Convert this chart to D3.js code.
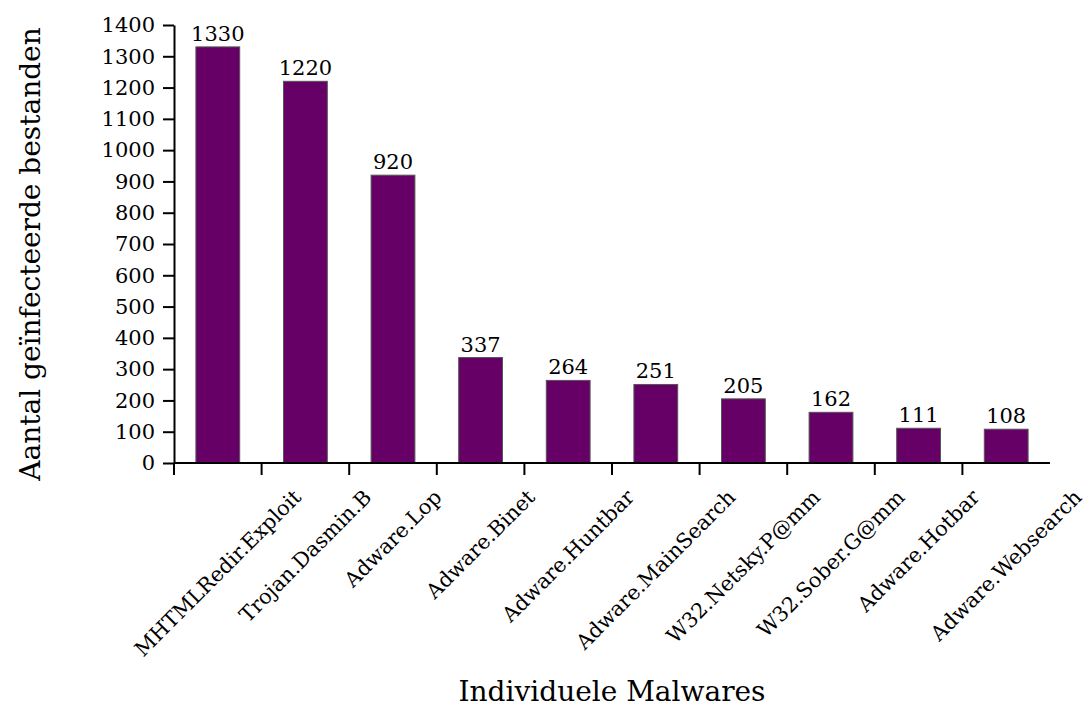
<!DOCTYPE html>
<html>
<head>
<meta charset="utf-8">
<script src="https://cdn.jsdelivr.net/npm/d3@7"></script>
<style>
  html, body { margin: 0; padding: 0; background: #fff; }
  svg text { font-family: "DejaVu Serif", serif; fill: #000; }
</style>
</head>
<body>
<svg id="chart" width="1085" height="707"></svg>
<script>
// Malware names and number of infected files per malware
const categories = [
  "MHTMLRedir.Exploit", "Trojan.Dasmin.B", "Adware.Lop", "Adware.Binet",
  "Adware.Huntbar", "Adware.MainSearch", "W32.Netsky.P@mm", "W32.Sober.G@mm",
  "Adware.Hotbar", "Adware.Websearch"
];
const infectedFiles = [1330, 1220, 920, 337, 264, 251, 205, 162, 111, 108];
const yTicks = [0, 100, 200, 300, 400, 500, 600, 700, 800, 900, 1000, 1100, 1200, 1300, 1400];

const svg = d3.select("#chart");
const plot = { left: 174, right: 1050, top: 25, bottom: 463 };

const x = d3.scaleBand()
  .domain(categories)
  .range([plot.left, plot.right])
  .paddingInner(0.5)
  .paddingOuter(0.25);

const y = d3.scaleLinear()
  .domain([0, 1400])
  .range([plot.bottom, plot.top]);

// Bars
svg.append("g").selectAll("rect")
  .data(categories)
  .join("rect")
  .attr("x", d => x(d))
  .attr("y", (d, i) => y(infectedFiles[i]))
  .attr("width", x.bandwidth())
  .attr("height", (d, i) => y(0) - y(infectedFiles[i]))
  .attr("fill", "#660066")
  .attr("stroke", "#555")
  .attr("stroke-width", 1);

// Value labels above the bars
svg.append("g").selectAll("text")
  .data(categories)
  .join("text")
  .attr("x", d => x(d) + x.bandwidth() / 2)
  .attr("y", (d, i) => y(infectedFiles[i]) - 6)
  .attr("text-anchor", "middle")
  .attr("font-size", 21)
  .text((d, i) => infectedFiles[i]);

// Y axis
const yAxis = svg.append("g")
  .attr("transform", `translate(${plot.left},0)`)
  .call(d3.axisLeft(y)
    .tickValues(yTicks)
    .tickFormat(d3.format("d"))
    .tickSize(11).tickPadding(8).tickSizeOuter(0));
yAxis.select(".domain").attr("stroke", "#000").attr("stroke-width", 2);
yAxis.selectAll(".tick line").attr("stroke", "#000").attr("stroke-width", 2);
yAxis.selectAll(".tick text")
  .attr("font-family", "DejaVu Serif")
  .attr("font-size", 21)
  .attr("fill", "#000");

// X axis: baseline with ticks at the left edge of every category slot
const step = x.step();
const xAxis = svg.append("g");
xAxis.append("line")
  .attr("x1", plot.left).attr("x2", plot.right)
  .attr("y1", y(0)).attr("y2", y(0))
  .attr("stroke", "#000").attr("stroke-width", 2);
xAxis.selectAll("line.tick")
  .data(categories)
  .join("line")
  .attr("class", "tick")
  .attr("x1", d => x(d) + x.bandwidth() / 2 - step / 2)
  .attr("x2", d => x(d) + x.bandwidth() / 2 - step / 2)
  .attr("y1", y(0)).attr("y2", y(0) + 12)
  .attr("stroke", "#000").attr("stroke-width", 2);

// Rotated category labels, centred under each bar
const labelTop = 487;
const labelSize = 20.8;
xAxis.selectAll("text.cat")
  .data(categories)
  .join("text")
  .attr("class", "cat")
  .attr("font-size", labelSize)
  .attr("text-anchor", "middle")
  .attr("dominant-baseline", "central")
  .text(d => d)
  .each(function (d) {
    const len = this.getComputedTextLength();
    const cx = x(d) + x.bandwidth() / 2;
    const cy = labelTop + (len + labelSize * 0.9) * Math.SQRT1_2 / 2;
    d3.select(this)
      .attr("x", 0).attr("y", 0)
      .attr("transform", `translate(${cx},${cy}) rotate(-45)`);
  });

// Axis titles
svg.append("text")
  .attr("x", 612)
  .attr("y", 701)
  .attr("text-anchor", "middle")
  .attr("font-size", 28)
  .text("Individuele Malwares");

svg.append("text")
  .attr("transform", "translate(40,254) rotate(-90)")
  .attr("text-anchor", "middle")
  .attr("font-size", 28)
  .text("Aantal geïnfecteerde bestanden");
</script>
</body>
</html>
